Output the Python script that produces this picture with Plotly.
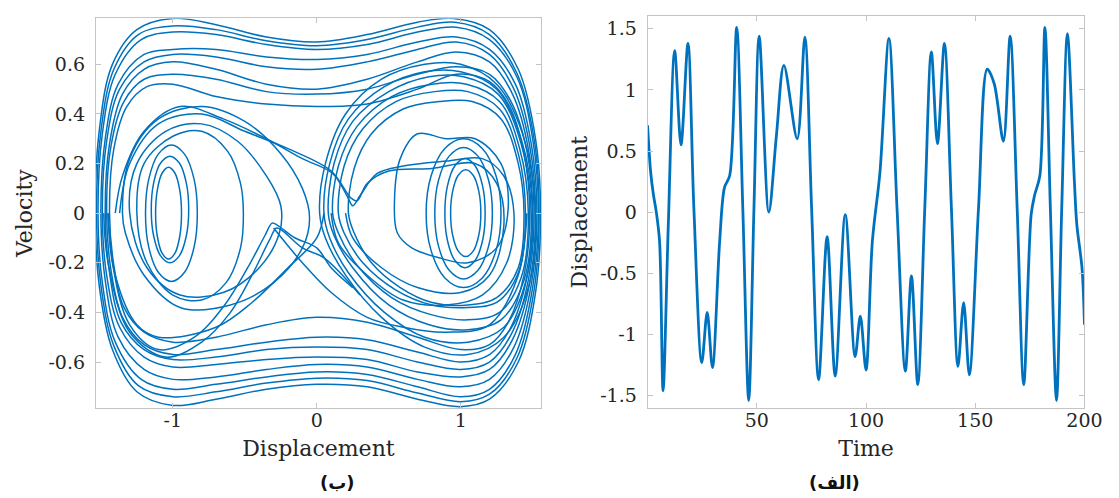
import plotly.graph_objects as go

# ---------------- Time series (right panel, "الف") ----------------
time_vals = [0, 1.4, 2.7, 4.0, 5.5, 7.1, 9.5, 12.4, 15.3, 18.5, 21.2, 24.8, 27.3, 29.7,
             33.0, 35.2, 37.6, 40.8, 43.6, 46.3, 48.7, 51.1, 55.5, 59.0, 62.4, 68.5, 72.0,
             75.1, 78.3, 82.2, 85.9, 90.5, 95.0, 97.4, 100.0, 102.9, 106.4, 110.5, 114.2,
             118.0, 120.8, 123.7, 126.9, 129.9, 132.7, 135.9, 139.1, 142.1, 144.7, 147.3,
             151.5, 155.5, 158.7, 162.9, 166.0, 169.2, 172.2, 175.6, 177.2, 179.6, 181.9,
             184.4, 187.2, 189.6, 192.2, 195.4, 196.5, 198.9, 200.0]
disp_vals = [0.71, 0.33, 0.14, 0.0, -0.24, -1.46, -0.1, 1.32, 0.55, 1.38, 0.03, -1.23, -0.82, -1.27,
             -0.24, 0.2, 0.30, 1.51, 0.03, -1.54, 0.03, 1.44, 0.0, 0.63, 1.20, 0.60, 1.43,
             0.03, -1.37, -0.20, -1.34, -0.02, -1.18, -0.85, -1.29, -0.24, 0.33, 1.42, 0.03,
             -1.30, -0.52, -1.41, 0.03, 1.31, 0.56, 1.38, 0.03, -1.26, -0.74, -1.33,
             0.03, 1.17, 1.05, 0.58, 1.44, 0.03, -1.41, -0.02, 0.14, 0.30, 1.51,
             0.03, -1.54, 0.03, 1.46, 0.25, -0.1, -0.46, -0.92]

# ---------------- Phase portrait (left panel, "ب") ----------------
outer_orbits = [
    [(-1.54, 0), (-1.51, 0.34), (-1.42, 0.6), (-1.25, 0.74), (-1.0, 0.785), (-0.7, 0.76), (-0.35, 0.71), (0, 0.69),
     (0.35, 0.72), (0.7, 0.77), (0.95, 0.785), (1.2, 0.74), (1.4, 0.58), (1.52, 0.3), (1.555, 0),
     (1.52, -0.32), (1.4, -0.6), (1.2, -0.75), (1.0, -0.78), (0.7, -0.75), (0.35, -0.70), (0, -0.69),
     (-0.35, -0.71), (-0.7, -0.75), (-1.0, -0.775), (-1.25, -0.72), (-1.42, -0.55), (-1.51, -0.3), (-1.54, 0)],
    [(-1.53, 0), (-1.5, 0.33), (-1.41, 0.58), (-1.24, 0.72), (-1.0, 0.755), (-0.7, 0.74), (-0.35, 0.695), (0, 0.675),
     (0.35, 0.70), (0.7, 0.75), (0.96, 0.77), (1.2, 0.72), (1.39, 0.565), (1.51, 0.3), (1.545, 0),
     (1.51, -0.31), (1.39, -0.585), (1.2, -0.73), (1.0, -0.76), (0.7, -0.725), (0.35, -0.675), (0, -0.665),
     (-0.35, -0.685), (-0.7, -0.72), (-1.0, -0.74), (-1.24, -0.695), (-1.41, -0.535), (-1.5, -0.29), (-1.53, 0)],
    [(-1.52, 0), (-1.49, 0.32), (-1.4, 0.56), (-1.22, 0.70), (-1.0, 0.73), (-0.7, 0.72), (-0.35, 0.68), (0, 0.66),
     (0.35, 0.68), (0.7, 0.73), (0.97, 0.75), (1.2, 0.70), (1.39, 0.55), (1.5, 0.3), (1.54, 0),
     (1.5, -0.3), (1.38, -0.57), (1.2, -0.71), (1.0, -0.74), (0.7, -0.70), (0.35, -0.65), (0, -0.64),
     (-0.35, -0.66), (-0.7, -0.69), (-1.0, -0.71), (-1.22, -0.67), (-1.4, -0.52), (-1.49, -0.28), (-1.52, 0)],
    [(-1.50, 0), (-1.47, 0.30), (-1.38, 0.52), (-1.2, 0.64), (-1.0, 0.66), (-0.7, 0.66), (-0.35, 0.63), (0, 0.62),
     (0.35, 0.64), (0.7, 0.69), (0.97, 0.71), (1.2, 0.66), (1.38, 0.52), (1.49, 0.28), (1.53, 0),
     (1.49, -0.29), (1.37, -0.54), (1.2, -0.67), (1.0, -0.70), (0.7, -0.67), (0.35, -0.62), (0, -0.61),
     (-0.35, -0.63), (-0.7, -0.66), (-1.0, -0.67), (-1.2, -0.63), (-1.38, -0.5), (-1.47, -0.27), (-1.50, 0)],
    [(-1.49, 0), (-1.46, 0.29), (-1.37, 0.5), (-1.2, 0.61), (-1.0, 0.64), (-0.7, 0.63), (-0.35, 0.59), (0, 0.58),
     (0.35, 0.61), (0.7, 0.66), (0.97, 0.69), (1.2, 0.64), (1.37, 0.5), (1.48, 0.27), (1.52, 0),
     (1.48, -0.28), (1.36, -0.51), (1.2, -0.63), (1.0, -0.66), (0.7, -0.64), (0.35, -0.59), (0, -0.58),
     (-0.35, -0.59), (-0.7, -0.61), (-1.0, -0.62), (-1.2, -0.58), (-1.37, -0.46), (-1.46, -0.25), (-1.49, 0)],
    [(-1.47, 0), (-1.44, 0.28), (-1.35, 0.48), (-1.2, 0.58), (-1.0, 0.61), (-0.7, 0.58), (-0.35, 0.52), (0, 0.50),
     (0.35, 0.54), (0.7, 0.61), (0.97, 0.65), (1.2, 0.61), (1.36, 0.48), (1.47, 0.26), (1.51, 0),
     (1.47, -0.27), (1.35, -0.49), (1.2, -0.6), (1.0, -0.63), (0.7, -0.6), (0.35, -0.55), (0, -0.54),
     (-0.35, -0.55), (-0.7, -0.58), (-1.0, -0.59), (-1.2, -0.55), (-1.36, -0.44), (-1.44, -0.24), (-1.47, 0)],
    [(-1.46, 0), (-1.43, 0.27), (-1.34, 0.45), (-1.2, 0.54), (-1.0, 0.56), (-0.7, 0.54), (-0.35, 0.49), (0, 0.48),
     (0.35, 0.5), (0.7, 0.56), (0.97, 0.59), (1.2, 0.56), (1.35, 0.45), (1.46, 0.25), (1.50, 0),
     (1.46, -0.26), (1.34, -0.47), (1.2, -0.57), (1.0, -0.60), (0.7, -0.56), (0.35, -0.51), (0, -0.50),
     (-0.35, -0.52), (-0.7, -0.55), (-1.0, -0.57), (-1.2, -0.53), (-1.35, -0.42), (-1.43, -0.23), (-1.46, 0)],
    [(-1.44, 0), (-1.41, 0.26), (-1.32, 0.43), (-1.18, 0.51), (-1.0, 0.52), (-0.7, 0.47), (-0.35, 0.44), (0, 0.43),
     (0.35, 0.44), (0.7, 0.5), (0.97, 0.56), (1.2, 0.53), (1.34, 0.43), (1.44, 0.24), (1.48, 0),
     (1.44, -0.25), (1.33, -0.44), (1.2, -0.53), (1.0, -0.55), (0.7, -0.5), (0.35, -0.44), (0, -0.42),
     (-0.35, -0.45), (-0.7, -0.5), (-1.0, -0.52), (-1.2, -0.48), (-1.34, -0.38), (-1.41, -0.21), (-1.44, 0)],
]

right_well_orbits = [
    [(0.02, 0), (0.06, 0.2), (0.2, 0.4), (0.45, 0.54), (0.75, 0.6), (1.0, 0.6), (1.25, 0.52), (1.43, 0.32), (1.52, 0),
     (1.47, -0.3), (1.3, -0.5), (1.05, -0.57), (0.75, -0.54), (0.45, -0.42), (0.2, -0.25), (0.06, -0.1), (0.02, 0)],
    [(0.05, 0), (0.09, 0.2), (0.22, 0.38), (0.47, 0.51), (0.75, 0.57), (1.0, 0.57), (1.25, 0.5), (1.42, 0.3), (1.5, 0),
     (1.45, -0.28), (1.3, -0.46), (1.05, -0.52), (0.75, -0.5), (0.47, -0.4), (0.22, -0.24), (0.09, -0.1), (0.05, 0)],
    [(0.08, 0), (0.12, 0.2), (0.25, 0.37), (0.5, 0.49), (0.78, 0.55), (1.02, 0.55), (1.26, 0.48), (1.42, 0.28), (1.49, 0),
     (1.44, -0.27), (1.28, -0.43), (1.05, -0.47), (0.78, -0.45), (0.5, -0.37), (0.25, -0.22), (0.12, -0.09), (0.08, 0)],
    [(0.11, 0), (0.15, 0.19), (0.28, 0.35), (0.52, 0.47), (0.8, 0.52), (1.04, 0.52), (1.27, 0.45), (1.41, 0.26), (1.47, 0),
     (1.42, -0.26), (1.27, -0.4), (1.05, -0.43), (0.8, -0.41), (0.52, -0.34), (0.28, -0.21), (0.15, -0.08), (0.11, 0)],
    [(0.15, 0), (0.19, 0.19), (0.32, 0.34), (0.55, 0.45), (0.82, 0.49), (1.05, 0.49), (1.27, 0.42), (1.4, 0.24), (1.45, 0),
     (1.4, -0.24), (1.25, -0.36), (1.05, -0.38), (0.8, -0.37), (0.55, -0.31), (0.32, -0.2), (0.19, -0.08), (0.15, 0)],
    [(0.22, 0), (0.26, 0.18), (0.38, 0.32), (0.6, 0.42), (0.85, 0.45), (1.08, 0.45), (1.28, 0.38), (1.4, 0.2), (1.44, 0),
     (1.4, -0.22), (1.25, -0.34), (1.05, -0.37), (0.8, -0.36), (0.58, -0.3), (0.38, -0.2), (0.26, -0.08), (0.22, 0)],
]

right_rings = [
    [(0.93, 0), (0.944, 0.088), (0.982, 0.152), (1.035, 0.175), (1.088, 0.152), (1.126, 0.088), (1.14, 0),
     (1.126, -0.088), (1.088, -0.152), (1.035, -0.175), (0.982, -0.152), (0.944, -0.088), (0.93, 0)],
    [(0.89, 0), (0.908, 0.11), (0.96, 0.191), (1.03, 0.22), (1.10, 0.191), (1.152, 0.11), (1.17, 0),
     (1.152, -0.11), (1.10, -0.191), (1.03, -0.22), (0.96, -0.191), (0.908, -0.11), (0.89, 0)],
    [(0.82, 0), (0.846, 0.133), (0.92, 0.23), (1.02, 0.265), (1.12, 0.23), (1.194, 0.133), (1.22, 0),
     (1.194, -0.133), (1.12, -0.23), (1.02, -0.265), (0.92, -0.23), (0.846, -0.133), (0.82, 0)],
    [(0.76, 0), (0.794, 0.15), (0.89, 0.261), (1.02, 0.3), (1.15, 0.261), (1.246, 0.15), (1.28, 0),
     (1.246, -0.15), (1.15, -0.261), (1.02, -0.3), (0.89, -0.261), (0.794, -0.15), (0.76, 0)],
    [(0.9, 0.3), (0.7, 0.32), (0.58, 0.22), (0.54, 0.05), (0.56, -0.08), (0.66, -0.14), (0.85, -0.18), (1.05, -0.2),
     (1.25, -0.14), (1.33, 0.02), (1.28, 0.2), (1.1, 0.3), (0.9, 0.3)],
]

left_well_orbits = [
    [(-1.35, 0), (-1.3, 0.22), (-1.1, 0.38), (-0.8, 0.43), (-0.5, 0.37), (-0.25, 0.24), (-0.1, 0.1), (-0.05, -0.02),
     (-0.1, -0.14), (-0.3, -0.28), (-0.6, -0.37), (-0.95, -0.38), (-1.2, -0.25), (-1.33, -0.08), (-1.35, 0)],
    [(-1.3, 0), (-1.25, 0.2), (-1.05, 0.33), (-0.8, 0.36), (-0.55, 0.29), (-0.35, 0.15), (-0.25, 0.03), (-0.26, -0.08),
     (-0.4, -0.22), (-0.65, -0.32), (-0.95, -0.33), (-1.18, -0.22), (-1.3, 0)],
    [(-1.25, 0), (-1.2, 0.2), (-1.0, 0.31), (-0.8, 0.33), (-0.62, 0.25), (-0.53, 0.12), (-0.51, 0), (-0.53, -0.14),
     (-0.63, -0.28), (-0.8, -0.35), (-1.0, -0.33), (-1.18, -0.2), (-1.25, 0)],
]

left_rings = [
    [(-1.12, 0), (-1.108, 0.093), (-1.075, 0.161), (-1.03, 0.185), (-0.985, 0.161), (-0.952, 0.093), (-0.94, 0),
     (-0.952, -0.093), (-0.985, -0.161), (-1.03, -0.185), (-1.075, -0.161), (-1.108, -0.093), (-1.12, 0)],
    [(-1.15, 0.015), (-1.133, 0.123), (-1.085, 0.202), (-1.02, 0.23), (-0.955, 0.202), (-0.907, 0.123), (-0.89, 0.015),
     (-0.907, -0.093), (-0.955, -0.172), (-1.02, -0.2), (-1.085, -0.172), (-1.133, -0.093), (-1.15, 0.015)],
    [(-1.19, 0), (-1.167, 0.138), (-1.10, 0.239), (-1.01, 0.275), (-0.92, 0.239), (-0.853, 0.138), (-0.83, 0),
     (-0.853, -0.138), (-0.92, -0.239), (-1.01, -0.275), (-1.10, -0.239), (-1.167, -0.138), (-1.19, 0)],
]

saddle_paths = [
    [(-1.4, 0.0), (-1.35, 0.15), (-1.2, 0.33), (-0.95, 0.43), (-0.65, 0.38), (-0.35, 0.3), (-0.1, 0.22), (0.11, 0.16),
     (0.21, 0.07), (0.25, 0.03), (0.3, 0.07), (0.42, 0.16), (0.6, 0.19), (0.9, 0.21), (1.15, 0.22), (1.3, 0.15),
     (1.37, 0.0), (1.32, -0.2), (1.15, -0.33), (0.9, -0.37), (0.6, -0.35), (0.35, -0.25), (0.15, -0.12), (0.1, 0.0)],
    [(-1.37, 0.0), (-1.3, 0.2), (-1.1, 0.36), (-0.8, 0.4), (-0.5, 0.33), (-0.2, 0.26), (0.1, 0.17), (0.24, 0.06),
     (0.28, 0.05), (0.35, 0.12), (0.5, 0.17), (0.8, 0.18), (1.1, 0.2), (1.25, 0.12), (1.3, -0.05), (1.2, -0.25),
     (1.0, -0.32), (0.7, -0.3), (0.45, -0.22), (0.25, -0.1), (0.2, 0.0)],
    [(0.25, -0.3), (0.1, -0.22), (0.0, -0.14), (-0.15, -0.1), (-0.27, -0.05), (-0.31, -0.04), (-0.36, -0.09),
     (-0.48, -0.22), (-0.64, -0.37), (-0.85, -0.5), (-1.1, -0.55), (-1.3, -0.45), (-1.42, -0.2), (-1.45, 0)],
    [(0.3, -0.33), (0.05, -0.18), (-0.1, -0.14), (-0.24, -0.07), (-0.28, -0.06), (-0.33, -0.11), (-0.45, -0.25),
     (-0.6, -0.4), (-0.8, -0.52), (-1.05, -0.58), (-1.3, -0.48), (-1.45, -0.2), (-1.48, 0)],
    [(-0.3, -0.06), (-0.1, -0.2), (0.1, -0.32), (0.35, -0.42), (0.6, -0.46), (0.9, -0.48), (1.2, -0.45),
     (1.4, -0.25), (1.46, 0)],
    [(-1.45, 0.0), (-1.4, -0.25), (-1.25, -0.45), (-1.1, -0.5), (-0.7, -0.46), (-0.45, -0.36), (-0.2, -0.22),
     (0.0, -0.1), (0.05, 0.0)],
]

# ---------------- Build figure ----------------
def flatten(groups):
    xs, ys = [], []
    for group in groups:
        for curve in group:
            for (a, b) in curve:
                xs.append(a)
                ys.append(b)
            xs.append(None)
            ys.append(None)
    return xs, ys

px, pv = flatten([outer_orbits, right_well_orbits, right_rings, left_well_orbits, left_rings, saddle_paths])

LINE = '#0072BD'
TXT = '#262626'
GRID = '#C4C4C4'
FONT = 'DejaVu Serif'

fig = go.Figure()
fig.add_trace(go.Scatter(x=px, y=pv, mode='lines', line=dict(color=LINE, width=1.5, shape='spline', smoothing=1.0),
                         connectgaps=False, xaxis='x', yaxis='y', showlegend=False, hoverinfo='skip'))
fig.add_trace(go.Scatter(x=time_vals, y=disp_vals, mode='lines',
                         line=dict(color=LINE, width=2.8, shape='spline', smoothing=0.9),
                         xaxis='x2', yaxis='y2', showlegend=False, hoverinfo='skip'))

axis_common = dict(showline=True, linecolor=GRID, linewidth=1, mirror='ticks', ticks='inside', ticklen=5,
                   tickcolor=GRID, showgrid=False, zeroline=False,
                   tickfont=dict(family=FONT, size=19, color=TXT))

v_ticks = [-0.6, -0.4, -0.2, 0, 0.2, 0.4, 0.6]
v_text = ['-0.6', '-0.4', '-0.2', '0', '0.2', '0.4', '0.6']
d_ticks = [-1, 0, 1]
d_text = ['-1', '0', '1']
t_ticks = [50, 100, 150, 200]
t_text = ['50', '100', '150', '200']
s_ticks = [-1.5, -1, -0.5, 0, 0.5, 1, 1.5]
s_text = ['-1.5', '-1', '-0.5', '0', '0.5', '1', '1.5']

title_font = dict(family=FONT, size=22, color=TXT)

fig.update_layout(
    width=1119, height=498, margin=dict(l=0, r=0, t=0, b=0),
    paper_bgcolor='white', plot_bgcolor='white',
    xaxis=dict(domain=[0.0798, 0.4841], range=[-1.535, 1.558], tickvals=d_ticks, ticktext=d_text,
               ticklabelstandoff=-5,
               title=dict(text='Displacement', font=title_font, standoff=10), **axis_common),
    yaxis=dict(domain=[0.197, 0.979], range=[-0.785, 0.785], tickvals=v_ticks, ticktext=v_text,
               ticklabelstandoff=6,
               title=dict(text='Velocity', font=title_font, standoff=9), **axis_common),
    xaxis2=dict(domain=[0.5809, 0.9777], range=[0, 200], tickvals=t_ticks, ticktext=t_text, anchor='y2',
                ticklabelstandoff=-5,
                title=dict(text='Time', font=title_font, standoff=10), **axis_common),
    yaxis2=dict(domain=[0.197, 0.983], range=[-1.6, 1.6], tickvals=s_ticks, ticktext=s_text, anchor='x2',
                ticklabelstandoff=6,
                title=dict(text='Displacement', font=title_font, standoff=6), **axis_common),
    annotations=[
        dict(text='<b>(ب)</b>', x=315 / 1119, y=1 - 487 / 498, xref='paper', yref='paper', showarrow=False,
             font=dict(family='DejaVu Sans', size=18, color='#111111')),
        dict(text='<b>(الف)</b>', x=868 / 1119, y=1 - 487 / 498, xref='paper', yref='paper', showarrow=False,
             font=dict(family='DejaVu Sans', size=18, color='#111111')),
    ],
)

fig.write_html('out.html')
